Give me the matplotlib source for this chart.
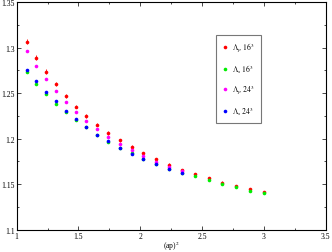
import matplotlib
matplotlib.use("Agg")
import matplotlib.pyplot as plt
from matplotlib.ticker import MultipleLocator
from matplotlib.lines import Line2D

plt.rcParams['font.family'] = ['Liberation Serif', 'DejaVu Serif']
plt.rcParams['mathtext.fontset'] = 'stix'

# x values (ap)^2
x16 = [1.084, 1.156, 1.237, 1.316, 1.396, 1.480, 1.561, 1.653, 1.742, 1.833, 1.930,
       2.025, 2.130, 2.232, 2.338, 2.443, 2.553, 2.664, 2.775, 2.888, 3.001]
x24 = x16[:15]

lp16 = [1.3066, 1.2890, 1.2735, 1.2596, 1.2471, 1.2353, 1.2246, 1.2154, 1.2063, 1.1982, 1.1912,
        1.1838, 1.1772, 1.1713, 1.1654, 1.1610, 1.1563, 1.1518, 1.1482, 1.1449, 1.1412]
lp16_err = [0.0030, 0.0027, 0.0025, 0.0023, 0.0022, 0.0021, 0.0020, 0.0019, 0.0018, 0.0018, 0.0017,
            0.0017, 0.0016, 0.0016, 0.0015, 0.0014, 0.0013, 0.0012, 0.0011, 0.0010, 0.0010]

ls16 = [1.2728, 1.2603, 1.2489, 1.2382, 1.2294, 1.2210, 1.2125, 1.2040, 1.1960, 1.1900, 1.1838,
        1.1776, 1.1721, 1.1669, 1.1625, 1.1588, 1.1544, 1.1507, 1.1467, 1.1430, 1.1401]
ls16_err = [0.0012, 0.0011, 0.0010, 0.0010, 0.0009, 0.0009, 0.0009, 0.0008, 0.0008, 0.0008, 0.0008,
            0.0008, 0.0007, 0.0007, 0.0007, 0.0007, 0.0007, 0.0007, 0.0007, 0.0007, 0.0007]

lp24 = [1.2963, 1.2801, 1.2654, 1.2522, 1.2397, 1.2290, 1.2191, 1.2107, 1.2022, 1.1945, 1.1871,
        1.1805, 1.1746, 1.1691, 1.1643]
lp24_err = [0.0010, 0.0010, 0.0010, 0.0010, 0.0010, 0.0010, 0.0010, 0.0010, 0.0010, 0.0010, 0.0010,
            0.0010, 0.0010, 0.0010, 0.0010]

ls24 = [1.2757, 1.2632, 1.2515, 1.2408, 1.2309, 1.2213, 1.2125, 1.2044, 1.1971, 1.1897, 1.1835,
        1.1776, 1.1721, 1.1669, 1.1618]
ls24_err = [0.0012, 0.0011, 0.0010, 0.0010, 0.0009, 0.0009, 0.0009, 0.0008, 0.0008, 0.0008, 0.0008,
            0.0008, 0.0007, 0.0007, 0.0007]

fig = plt.figure(figsize=(3.32, 2.53), dpi=100)
ax = fig.add_axes([0.050, 0.088, 0.931, 0.900])

series = [
    (x16, lp16, lp16_err, "#ff0000", r"$\Lambda_p\ 16^3$"),
    (x16, ls16, ls16_err, "#00ee00", r"$\Lambda_s\ 16^3$"),
    (x24, lp24, lp24_err, "#ff00ff", r"$\Lambda_p\ 24^3$"),
    (x24, ls24, ls24_err, "#0000ff", r"$\Lambda_s\ 24^3$"),
]
handles = []
for xs, ys, es, c, lab in series:
    ax.errorbar(xs, ys, yerr=es, fmt="o", ms=2.6, color=c, ecolor=c, elinewidth=0.6,
                capsize=1.6, capthick=0.6, mew=0)
    handles.append(Line2D([], [], ls="none", marker="o", ms=2.6, mew=0, color=c, label=lab))

ax.set_xlim(1, 3.5)
ax.set_ylim(1.1, 1.35)
ax.xaxis.set_minor_locator(MultipleLocator(0.25))
ax.yaxis.set_minor_locator(MultipleLocator(0.025))
ax.set_xticks([1, 1.5, 2, 2.5, 3, 3.5])
ax.set_xticklabels(["1", "1.5", "2", "2.5", "3", "3.5"])
ax.set_yticks([1.1, 1.15, 1.2, 1.25, 1.3, 1.35])
ax.set_yticklabels(["1.1", "1.15", "1.2", "1.25", "1.3", "1.35"])
ax.tick_params(which="both", direction="in", top=True, right=True, labelsize=5.5,
               width=0.5, pad=1.5)
ax.tick_params(which="major", length=3)
ax.tick_params(which="minor", length=1.5)
for s in ax.spines.values():
    s.set_linewidth(0.8)

fig.text(0.5 * (0.050 + 0.981), 0.026, r"(ap)$^2$", fontsize=5.5, ha="center", va="center")

leg = ax.legend(handles=handles, loc="upper left", bbox_to_anchor=(0.645, 0.855), fontsize=5.5,
                frameon=True, fancybox=False, edgecolor="#555555", handlelength=0.7,
                handletextpad=0.6, borderpad=0.8, borderaxespad=0, labelspacing=1.05,
                numpoints=1)
leg.get_frame().set_linewidth(0.8)

fig.savefig("out.png", dpi=100)
